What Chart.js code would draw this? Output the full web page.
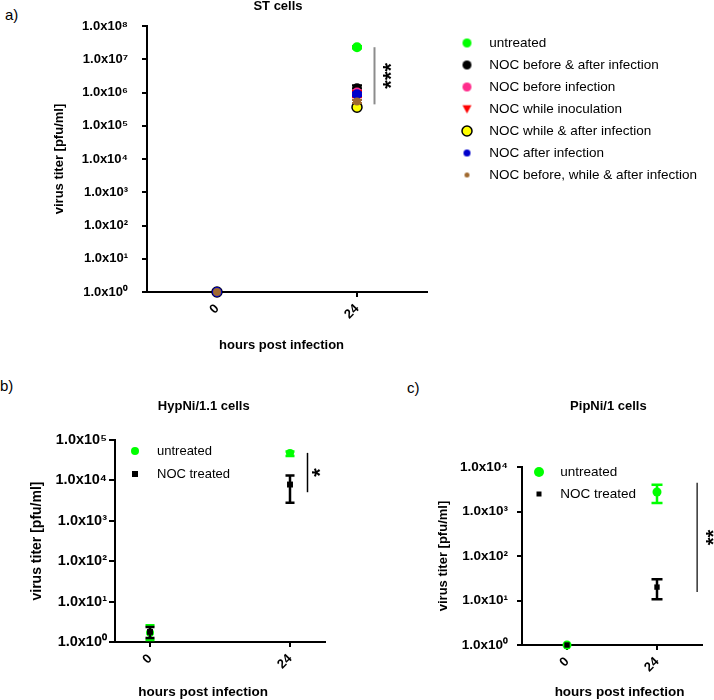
<!DOCTYPE html>
<html>
<head>
<meta charset="utf-8">
<script src="https://cdn.jsdelivr.net/npm/chart.js@4.4.1/dist/chart.umd.min.js"></script>
<style>
  body { margin: 0; background: #fff; width: 714px; height: 700px; overflow: hidden; position: relative;
         font-family: Arial, "Liberation Sans", sans-serif; }
  canvas { position: absolute; }
  .tag { position: absolute; font-size: 15px; line-height: 1; color: #000; }
</style>
</head>
<body>
<div class="tag" style="left:5px;top:7px">a)</div>
<div class="tag" style="left:0px;top:378px">b)</div>
<div class="tag" style="left:407px;top:380px">c)</div>
<canvas id="chartA" width="714" height="360" style="left:0;top:0"></canvas>
<canvas id="chartB" width="360" height="340" style="left:0;top:360px"></canvas>
<canvas id="chartC" width="294" height="340" style="left:420px;top:360px"></canvas>
<script>
// x categories (hours post infection)
var hours = [0, 24];
var xLabels = ['0', '24'];

// y ticks (log scale)
var yTicks = [1, 1e1, 1e2, 1e3, 1e4, 1e5, 1e6, 1e7, 1e8];
var yLabels = ['1.0x10⁰', '1.0x10¹', '1.0x10²', '1.0x10³', '1.0x10⁴', '1.0x10⁵', '1.0x10⁶', '1.0x10⁷', '1.0x10⁸'];

// a) ST cells  - values at 0 h and 24 h
var stGroups = ['untreated', 'NOC before & after infection', 'NOC before infection', 'NOC while inoculation',
                'NOC while & after infection', 'NOC after infection', 'NOC before, while & after infection'];
var stMean = [[1, 2.3e7], [1, 1.35e6], [1, 1.0e6], [1, 9.5e5], [1, 3.6e5], [1, 8.8e5], [1, 5.4e5]];
var stLow  = [[1, 2.1e7], [1, 1.1e6], [1, 8.5e5], [1, 7.2e5], [1, 3.2e5], [1, 7.8e5], [1, 4.8e5]];
var stHigh = [[1, 2.5e7], [1, 1.65e6], [1, 1.15e6], [1, 1.1e6], [1, 4.0e5], [1, 1.0e6], [1, 6.0e5]];
var stSig = [27, 2.3e7, 4.4e5];   // x, from, to

// b) HypNi/1.1 cells
var twoGroups = ['untreated', 'NOC treated'];
var hypMean = [[1.7, 4.8e4], [1.78, 7.9e3]];
var hypLow  = [[1.12, 4.0e4], [1.25, 2.8e3]];
var hypHigh = [[2.6, 5.2e4], [2.35, 1.33e4]];
var hypSig = [27, 4.8e4, 5.1e3];

// c) PipNi/1 cells
var pipMean = [[1, 2.75e3], [1, 20]];
var pipLow  = [[1, 1.55e3], [1, 10.7]];
var pipHigh = [[1, 4.0e3], [1, 30]];
var pipSig = [34.7, 4.4e3, 15.5];

// styles
var stColors = ['#00ff00', '#000000', '#ff2d8c', '#ff0000', '#ffff00', '#0000cc', '#a0692f'];
var stRadius = [5, 5, 5, 5.5, 5, 5, 4];
var stIconRadius = [4.5, 4.5, 4.5, 4.5, 5, 3.5, 2.5];
var twoColors = ['#00ff00', '#000000'];

var FONT = 'Arial, "Liberation Sans", sans-serif';
Chart.defaults.font.family = FONT;
Chart.defaults.color = '#000';

// small canvas used as legend marker
function makeIcon(shape, r, fill, stroke, lw) {
  var c = document.createElement('canvas');
  var size = Math.ceil(2 * r + (lw || 0) + 2);
  c.width = c.height = size;
  var g = c.getContext('2d');
  var m = size / 2;
  g.fillStyle = fill;
  g.beginPath();
  if (shape === 'circle') g.arc(m, m, r, 0, Math.PI * 2);
  else if (shape === 'triangleDown') { g.moveTo(m - r, m - r * 0.85); g.lineTo(m + r, m - r * 0.85); g.lineTo(m, m + r); g.closePath(); }
  else g.rect(m - r, m - r, 2 * r, 2 * r);
  g.fill();
  if (lw) { g.strokeStyle = stroke; g.lineWidth = lw; g.stroke(); }
  return c;
}

// text nudged sideways with blank padding (titles are centred on the plot area)
function nudge(text, before, after) {
  return ' '.repeat(before) + text + ' '.repeat(after);
}

// put the legend where we want it
var legendAt = {
  id: 'legendAt',
  afterLayout: function (chart, args, o) {
    var lg = chart.legend;
    lg.left = o.x; lg.top = o.y;
    lg.right = o.x + 400; lg.bottom = o.y + 400;
  }
};

// vertical error bars, drawn under each dataset's points
var errorBars = {
  id: 'errorBars',
  beforeDatasetDraw: function (chart, args, o) {
    var ds = chart.data.datasets[args.index];
    if (!ds.errLow) return;
    var ctx = chart.ctx, x = chart.scales.x, y = chart.scales.y;
    ctx.save();
    ctx.strokeStyle = ds.errorColor || ds.backgroundColor;
    ctx.lineWidth = o.width;
    ds.data.forEach(function (p, j) {
      var px = x.getPixelForValue(p.x);
      var lo = y.getPixelForValue(ds.errLow[j]), hi = y.getPixelForValue(ds.errHigh[j]);
      if (Math.abs(lo - hi) < 1) return;
      ctx.beginPath();
      ctx.moveTo(px, lo); ctx.lineTo(px, hi);
      ctx.moveTo(px - o.cap, lo); ctx.lineTo(px + o.cap, lo);
      ctx.moveTo(px - o.cap, hi); ctx.lineTo(px + o.cap, hi);
      ctx.stroke();
    });
    ctx.restore();
  }
};

// significance bar with stars
var sigBar = {
  id: 'sigBar',
  afterDatasetsDraw: function (chart, args, o) {
    var ctx = chart.ctx, x = chart.scales.x, y = chart.scales.y;
    var px = x.getPixelForValue(o.at);
    var y1 = y.getPixelForValue(o.from), y2 = y.getPixelForValue(o.to);
    ctx.save();
    ctx.strokeStyle = o.color;
    ctx.lineWidth = o.width;
    ctx.beginPath(); ctx.moveTo(px, y1); ctx.lineTo(px, y2); ctx.stroke();
    ctx.translate(px + o.dx, (y1 + y2) / 2);
    ctx.rotate(-Math.PI / 2);
    ctx.fillStyle = '#000';
    ctx.font = 'bold ' + o.size + 'px ' + FONT;
    ctx.textAlign = 'center';
    ctx.textBaseline = 'middle';
    ctx.fillText(o.text, 0, 0);
    ctx.restore();
  }
};

function buildChart(id, p) {
  var icons = p.icons;
  var ticks = yTicks.slice(0, p.decades + 1);
  return new Chart(document.getElementById(id), {
    type: 'scatter',
    data: { datasets: p.datasets },
    plugins: [legendAt, errorBars, sigBar],
    options: {
      responsive: false,
      animation: false,
      events: [],
      layout: { padding: { left: 0, top: 0, right: p.padRight, bottom: 0 } },
      scales: {
        x: {
          type: 'linear', min: p.xMin, max: p.xMax,
          afterBuildTicks: function (s) { s.ticks = hours.map(function (v) { return { value: v }; }); },
          afterFit: function (s) { s.height = p.xHeight; },
          ticks: { autoSkip: false, minRotation: 45, maxRotation: 45, padding: 4,
                   font: { size: 13, weight: 'bold' },
                   callback: function (v, i) { return xLabels[i]; } },
          grid: { drawOnChartArea: false, tickLength: 5, lineWidth: 2, color: '#000' },
          border: { color: '#000', width: 2 },
          title: { display: true, text: p.xTitle,
                   font: { size: p.xTitleSize, weight: 'bold', lineHeight: 1 },
                   padding: { top: 0, bottom: p.xTitlePad } }
        },
        y: {
          type: 'logarithmic', min: 1, max: ticks[ticks.length - 1],
          afterBuildTicks: function (s) { s.ticks = ticks.map(function (v) { return { value: v }; }); },
          afterFit: function (s) { s.width = p.yWidth; },
          ticks: { autoSkip: false, padding: p.yTickPad, font: { size: p.yTickSize, weight: 'bold' },
                   callback: function (v, i) { return yLabels[i]; } },
          grid: { drawOnChartArea: false, tickLength: p.yTickLen, lineWidth: 2, color: '#000' },
          border: { color: '#000', width: 2 },
          title: { display: true, text: 'virus titer [pfu/ml]',
                   font: { size: p.yTitleSize, weight: 'bold', lineHeight: 1 },
                   padding: { top: p.yTitlePad, bottom: 0 } }
        }
      },
      plugins: {
        title: { display: true, text: p.title, fullSize: false,
                 font: { size: 13, weight: 'bold', lineHeight: 1 },
                 padding: { top: p.titleTop, bottom: p.titleBottom } },
        legend: {
          position: 'chartArea', align: 'start',
          labels: {
            usePointStyle: true, pointStyleWidth: p.boxW, padding: p.legendPad,
            color: '#000', font: { size: p.legendSize },
            generateLabels: function (chart) {
              return chart.data.datasets.map(function (ds, i) {
                return { text: ds.label, pointStyle: icons[i], datasetIndex: i, hidden: false,
                         fillStyle: ds.backgroundColor, strokeStyle: ds.backgroundColor, lineWidth: 0 };
              });
            }
          }
        },
        tooltip: { enabled: false },
        legendAt: { x: p.legendX, y: p.legendY },
        errorBars: { width: p.errWidth, cap: p.errCap },
        sigBar: { at: p.sig[0], from: p.sig[1], to: p.sig[2], text: p.stars, color: p.sigColor,
                  width: p.sigWidth, dx: p.starDx, size: p.starSize }
      }
    }
  });
}

function twoSets(means, lows, highs, radius) {
  return twoGroups.map(function (g, i) {
    return {
      label: g,
      data: hours.map(function (h, j) { return { x: h, y: means[i][j] }; }),
      errLow: lows[i], errHigh: highs[i],
      backgroundColor: twoColors[i], borderColor: twoColors[i], borderWidth: 0,
      pointStyle: i === 0 ? 'circle' : 'rect',
      pointRadius: radius[i],
      order: twoGroups.length - i,
      clip: false
    };
  });
}

var stSets = stGroups.map(function (g, i) {
  return {
    label: g,
    data: hours.map(function (h, j) { return { x: h, y: stMean[i][j] }; }),
    errLow: stLow[i], errHigh: stHigh[i],
    backgroundColor: stColors[i],
    borderColor: i === 4 ? '#000' : stColors[i],
    borderWidth: i === 4 ? 1.5 : 0,
    errorColor: i === 4 ? '#000' : stColors[i],
    pointStyle: i === 3 ? 'triangle' : 'circle',
    rotation: i === 3 ? 180 : 0,
    pointRadius: stRadius[i],
    order: stGroups.length - i,
    clip: false
  };
});

var xTitle = 'hours post infection';

buildChart('chartA', {
  title: nudge('ST cells', 0, 5), titleTop: 0, titleBottom: 13,
  datasets: stSets,
  icons: stGroups.map(function (g, i) {
    return makeIcon(i === 3 ? 'triangleDown' : 'circle', stIconRadius[i], stColors[i], '#000', i === 4 ? 1.5 : 0);
  }),
  decades: 8, xMin: -12, xMax: 36, padRight: 287,
  xTitle: nudge(xTitle, 0, 3), xHeight: 68, xTitleSize: 13, xTitlePad: 8.5,
  yWidth: 147, yTickPad: 14, yTickLen: 5, yTickSize: 13, yTitleSize: 13, yTitlePad: 52.5,
  boxW: 31, legendPad: 8.5, legendSize: 13.5, legendX: 443, legendY: 27.75,
  errWidth: 2, errCap: 5,
  sig: stSig, stars: '***', sigColor: '#8c8c8c', sigWidth: 2, starDx: 17, starSize: 22
});

buildChart('chartB', {
  title: nudge('HypNi/1.1 cells', 0, 9), titleTop: 39.5, titleBottom: 27.5,
  datasets: twoSets(hypMean, hypLow, hypHigh, [4, 4.2]),
  icons: [makeIcon('circle', 4, twoColors[0]), makeIcon('rect', 3, twoColors[1])],
  decades: 5, xMin: -6, xMax: 30, padRight: 35,
  xTitle: nudge(xTitle, 0, 9), xHeight: 58, xTitleSize: 13.5, xTitlePad: 0.5,
  yWidth: 115, yTickPad: 2, yTickLen: 6, yTickSize: 14.5, yTitleSize: 14, yTitlePad: 30,
  boxW: 31, legendPad: 10, legendSize: 13, legendX: 109.5, legendY: 74.5,
  errWidth: 2.5, errCap: 4.5,
  sig: hypSig, stars: '*', sigColor: '#000', sigWidth: 1.5, starDx: 13, starSize: 22
});

buildChart('chartC', {
  title: nudge('PipNi/1 cells', 0, 2), titleTop: 39.5, titleBottom: 54.5,
  datasets: twoSets(pipMean, pipLow, pipHigh, [4.5, 3.8]),
  icons: [makeIcon('circle', 5, twoColors[0]), makeIcon('rect', 2.5, twoColors[1])],
  decades: 4, xMin: -12, xMax: 36, padRight: 12,
  xTitle: nudge(xTitle, 4, 0), xHeight: 55, xTitleSize: 13.5, xTitlePad: 0.5,
  yWidth: 102, yTickPad: 9, yTickLen: 5, yTickSize: 13.5, yTitleSize: 13, yTitlePad: 16.5,
  boxW: 29, legendPad: 8.5, legendSize: 13.5, legendX: 96, legendY: 96.75,
  errWidth: 2.5, errCap: 5.5,
  sig: pipSig, stars: '**', sigColor: '#000', sigWidth: 1.2, starDx: 17, starSize: 20
});
</script>
</body>
</html>
